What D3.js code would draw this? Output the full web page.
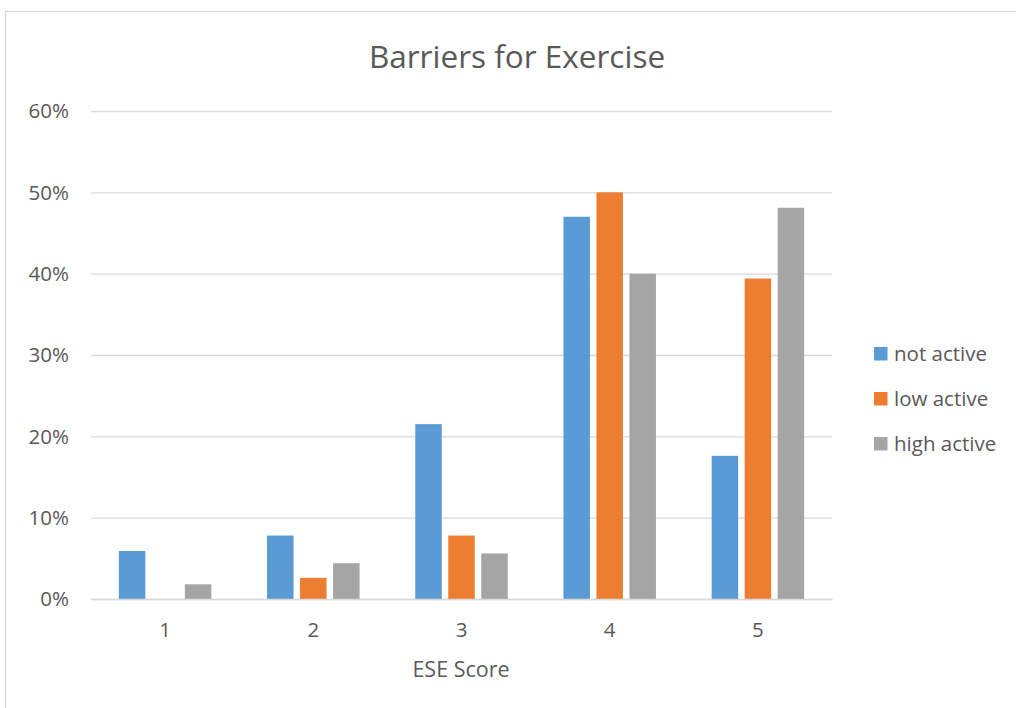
<!DOCTYPE html>
<html>
<head>
<meta charset="utf-8">
<script src="https://cdn.jsdelivr.net/npm/d3@7"></script>
<style>
  html, body { margin: 0; padding: 0; background: #fff; }
  svg { display: block; }
  text { font-family: "Open Sans", sans-serif; fill: #595959; }
</style>
</head>
<body>
<svg id="chart" width="1016" height="708"></svg>
<script>
// ESE score categories
const categories = ["1", "2", "3", "4", "5"];
// Series names and colours
const seriesNames = ["not active", "low active", "high active"];
const seriesColors = ["#5b9bd5", "#ed7d31", "#a5a5a5"];
// Share of respondents per ESE score (fractions)
const notActive  = [0.059, 0.078, 0.215, 0.470, 0.176];
const lowActive  = [0.000, 0.026, 0.078, 0.500, 0.394];
const highActive = [0.018, 0.044, 0.056, 0.400, 0.481];
// Y axis ticks
const yTicks = [0, 0.1, 0.2, 0.3, 0.4, 0.5, 0.6];

const seriesValues = [notActive, lowActive, highActive];
const rows = categories.map((c, i) => ({
  cat: c,
  vals: seriesNames.map((s, k) => ({ key: s, value: seriesValues[k][i], color: seriesColors[k] }))
}));

const svg = d3.select("#chart");

// chart frame
svg.append("rect")
  .attr("x", 5.5).attr("y", 11.5)
  .attr("width", 1040).attr("height", 720)
  .attr("fill", "#fff").attr("stroke", "#d9d9d9").attr("stroke-width", 1.3);

const plot = { left: 91, right: 832, top: 111, bottom: 599 };

const x0 = d3.scaleBand().domain(categories).range([plot.left, plot.right]).paddingInner(0).paddingOuter(0);
const x1 = d3.scaleBand().domain(seriesNames).range([0, x0.bandwidth()])
  .paddingInner(0.197).paddingOuter(0.844);
const y = d3.scaleLinear().domain([0, 0.6]).range([plot.bottom, plot.top]);

// gridlines + y labels
const yAxis = d3.axisLeft(y).tickValues(yTicks).tickFormat(d3.format(".0%"))
  .tickSize(-(plot.right - plot.left)).tickPadding(22);
const gy = svg.append("g").attr("transform", `translate(${plot.left},0)`).call(yAxis);
gy.select(".domain").remove();
gy.selectAll(".tick line").attr("stroke", "#d9d9d9").attr("stroke-width", 1.3);
gy.selectAll(".tick text").attr("font-size", 20.5).attr("fill", "#595959")
  .attr("font-family", "Open Sans, sans-serif").attr("dy", "0.34em");

// bars
const groups = svg.append("g").selectAll("g").data(rows).join("g")
  .attr("transform", d => `translate(${x0(d.cat)},0)`);
groups.selectAll("rect").data(d => d.vals).join("rect")
  .attr("x", d => x1(d.key))
  .attr("width", x1.bandwidth())
  .attr("y", d => y(d.value))
  .attr("height", d => y(0) - y(d.value))
  .attr("fill", d => d.color);

// x axis
const xAxis = d3.axisBottom(x0).tickSize(0).tickPadding(23);
const gx = svg.append("g").attr("transform", `translate(0,${plot.bottom})`).call(xAxis);
gx.select(".domain").attr("stroke", "#d9d9d9").attr("stroke-width", 1.3);
gx.selectAll(".tick text").attr("font-size", 20.5).attr("fill", "#595959")
  .attr("font-family", "Open Sans, sans-serif");

// titles
svg.append("text").attr("x", 517).attr("y", 67.5).attr("text-anchor", "middle")
  .attr("font-size", 31.5).text("Barriers for Exercise");
svg.append("text").attr("x", 461).attr("y", 677).attr("text-anchor", "middle")
  .attr("font-size", 21.5).text("ESE Score");

// legend
const legend = svg.append("g").selectAll("g").data(seriesNames).join("g")
  .attr("transform", (d, i) => `translate(874,${347 + i * 45})`);
legend.append("rect").attr("width", 13.5).attr("height", 13.5)
  .attr("fill", (d, i) => seriesColors[i]);
legend.append("text").attr("x", 20).attr("y", 13.5).attr("font-size", 20.5).text(d => d);
</script>
</body>
</html>
